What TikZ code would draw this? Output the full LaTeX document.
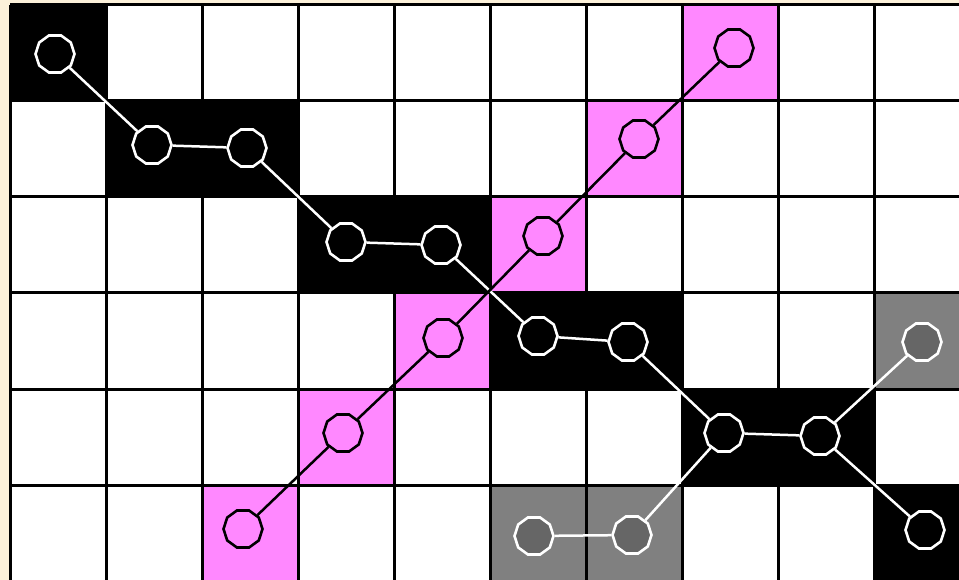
\documentclass[tikz,border=0pt]{standalone}
\usetikzlibrary{shapes.geometric}
\definecolor{papercream}{RGB}{252,241,218}
\definecolor{linkpink}{RGB}{255,136,255}
\definecolor{cellgray}{RGB}{128,128,128}
\definecolor{coregray}{RGB}{102,102,102}

\tikzset{
  site/.style={regular polygon, regular polygon sides=10, minimum size=39pt, inner sep=0pt, line width=2.6pt},
  darksite/.style={site, draw=white, fill=black},
  pinksite/.style={site, draw=black, fill=linkpink},
  graysite/.style={site, draw=white, fill=coregray},
  whitebond/.style={draw=white, line width=2.5pt},
  blackbond/.style={draw=black, line width=2.5pt},
}

\begin{document}
\begin{tikzpicture}[x=1pt,y=-1pt]
  \useasboundingbox (0,0) rectangle (959,580);
  \clip (0,0) rectangle (959,580);
  \fill[papercream] (0,0) rectangle (959,580);
  \fill[white] (10,5) rectangle (970,581);
  % cells, as column/row
  \foreach \c/\r in {0/0,1/1,2/1,3/2,4/2,5/3,6/3,7/4,8/4,9/5}
    \fill[black] (10+96*\c,5+96*\r) rectangle ++(96,96);
  \foreach \c/\r in {7/0,6/1,5/2,4/3,3/4,2/5}
    \fill[linkpink] (10+96*\c,5+96*\r) rectangle ++(96,96);
  \foreach \c/\r in {9/3,5/5,6/5}
    \fill[cellgray] (10+96*\c,5+96*\r) rectangle ++(96,96);
  % grid
  \foreach \c in {0,...,10}
    \draw[line width=3pt] (10+96*\c,5) -- (10+96*\c,581);
  \foreach \r in {0,...,6}
    \draw[line width=3pt] (10,5+96*\r) -- (970,5+96*\r);

  % black chain
  \node[darksite] (k0) at (55,54) {};
  \node[darksite] (k1) at (152,145) {};
  \node[darksite] (k2) at (247,148) {};
  \node[darksite] (k3) at (346,242) {};
  \node[darksite] (k4) at (441,245) {};
  \node[darksite] (k5) at (538,336) {};
  \node[darksite] (k6) at (628,342) {};
  \node[darksite] (k7) at (724,433) {};
  \node[darksite] (k8) at (820,436) {};
  \node[darksite] (k9) at (925,530) {};
  % gray sites
  \node[graysite] (g0) at (534,536) {};
  \node[graysite] (g1) at (632,535) {};
  \node[graysite] (g2) at (922,342) {};
  % pink chain
  \node[pinksite] (m0) at (243,529) {};
  \node[pinksite] (m1) at (343,433) {};
  \node[pinksite] (m2) at (443,338) {};
  \node[pinksite] (m3) at (543,236) {};
  \node[pinksite] (m4) at (639,139) {};
  \node[pinksite] (m5) at (734,48) {};

  \draw[whitebond] (k0) -- (k1) -- (k2) -- (k3) -- (k4) -- (k5) -- (k6) -- (k7) -- (k8) -- (k9);
  \draw[whitebond] (k8) -- (g2);
  \draw[whitebond] (k7) -- (g1) -- (g0);
  \draw[blackbond] (m0) -- (m1) -- (m2) -- (m3) -- (m4) -- (m5);
\end{tikzpicture}
\end{document}
